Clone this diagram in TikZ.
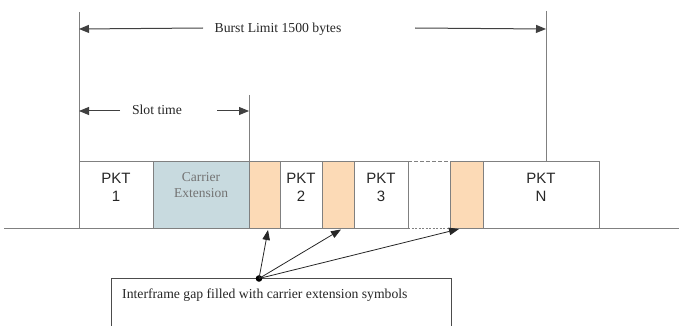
\documentclass[tikz,border=0pt]{standalone}
\usepackage{fontspec}
\setmainfont{Liberation Serif}
\newfontfamily\arialf{Liberation Sans}
\usetikzlibrary{arrows.meta,calc}
\definecolor{peach}{HTML}{FCDAB6}
\definecolor{cext}{HTML}{C8DADF}
\definecolor{linegray}{HTML}{808080}
\tikzset{
  frame/.style={draw=linegray,line width=0.9pt,inner sep=0pt,outer sep=0pt,minimum height=67pt},
  pktlabel/.style={font=\arialf\fontsize{15}{18}\selectfont,align=center,inner sep=0pt,text=black!85},
  serlabel/.style={font=\fontsize{13.7}{16}\selectfont,inner sep=0pt,text=black!85},
  dimarrow/.style={draw=black!75,line width=1pt,-{Triangle[length=10pt,width=8pt]}},
  ptr/.style={draw=black!85,line width=0.8pt,-{Triangle[length=10pt,width=7.5pt]}},
  vline/.style={draw=linegray,line width=0.9pt}
}
\begin{document}
\begin{tikzpicture}[x=1pt,y=-1pt]
\useasboundingbox (0,0) rectangle (679,326);
% boxes
\node[frame,minimum width=74pt] (p1) at (116,194.5) {};
\node[frame,fill=cext,minimum width=96pt] (ce) at (201,194.5) {};
\node[frame,fill=peach,minimum width=31pt] (o1) at (264.5,194.5) {};
\node[frame,minimum width=42pt] (p2) at (301,194.5) {};
\node[frame,fill=peach,minimum width=32pt] (o2) at (338,194.5) {};
\node[frame,minimum width=54pt] (p3) at (381,194.5) {};
\node[frame,fill=peach,minimum width=33pt] (o3) at (466.5,194.5) {};
\node[frame,minimum width=116pt] (pn) at (541,194.5) {};
% gap dashed edges
\draw[vline,dashed,dash pattern=on 4pt off 2pt] (p3.north east) -- (o3.north west);
\draw[vline,dashed,dash pattern=on 2pt off 1.5pt] (p3.south east) -- (o3.south west);
% baseline
\coordinate (bl) at (4,228);
\coordinate (br) at (679,228);
\draw[vline] (bl) -- (p1.south west);
\draw[vline] (pn.south east) -- (br);
% labels in boxes
\node[pktlabel] at ($(p1.center)+(0,-7)$) {PKT\\1};
\node[pktlabel] at ($(p2.center)+(0,-7)$) {PKT\\2};
\node[pktlabel] at ($(p3.center)+(0,-7)$) {PKT\\3};
\node[pktlabel] at ($(pn.center)+(0,-7)$) {PKT\\N};
\node[font=\fontsize{13.5}{16}\selectfont,align=center,inner sep=0pt,text=black!55] at ($(ce.center)+(0,-9)$) {Carrier\\Extension};
% vertical guide lines
\coordinate (lt) at (79,12);
\coordinate (st) at (249,95);
\coordinate (rt) at (546,11);
\draw[vline] (lt) -- (p1.north west);
\draw[vline] (st) -- (ce.north east);
\draw[vline] (rt) -- (rt |- pn.north);
% burst limit
\node[serlabel] (burst) at (278,29) {Burst Limit 1500 bytes};
\draw[dimarrow] (203,28) -- (lt |- burst);
\draw[dimarrow] (415,28) -- (rt |- burst);
% slot time
\node[serlabel] (slot) at (157,110) {Slot time};
\draw[dimarrow] (120,111) -- (79,111);
\draw[dimarrow] (217,111) -- (249,111);
% note box
\coordinate (nb1) at (111,327);
\coordinate (nb2) at (451,327);
\draw[draw=black!70,line width=0.8pt] (nb1) -- (111,278) -- (451,278) -- (nb2);
\node[serlabel,anchor=west] (note) at (122,295) {Interframe gap filled with carrier extension symbols};
% pointers
\coordinate (dot) at (259,278.5);
\coordinate (t1) at (268,230);
\coordinate (t2) at (341,229.5);
\coordinate (t3) at (459,229);
\fill[black] (dot) circle (3.3pt);
\draw[ptr] (dot) -- (t1);
\draw[ptr] (dot) -- (t2);
\draw[ptr] (dot) -- (t3);
\end{tikzpicture}
\end{document}
